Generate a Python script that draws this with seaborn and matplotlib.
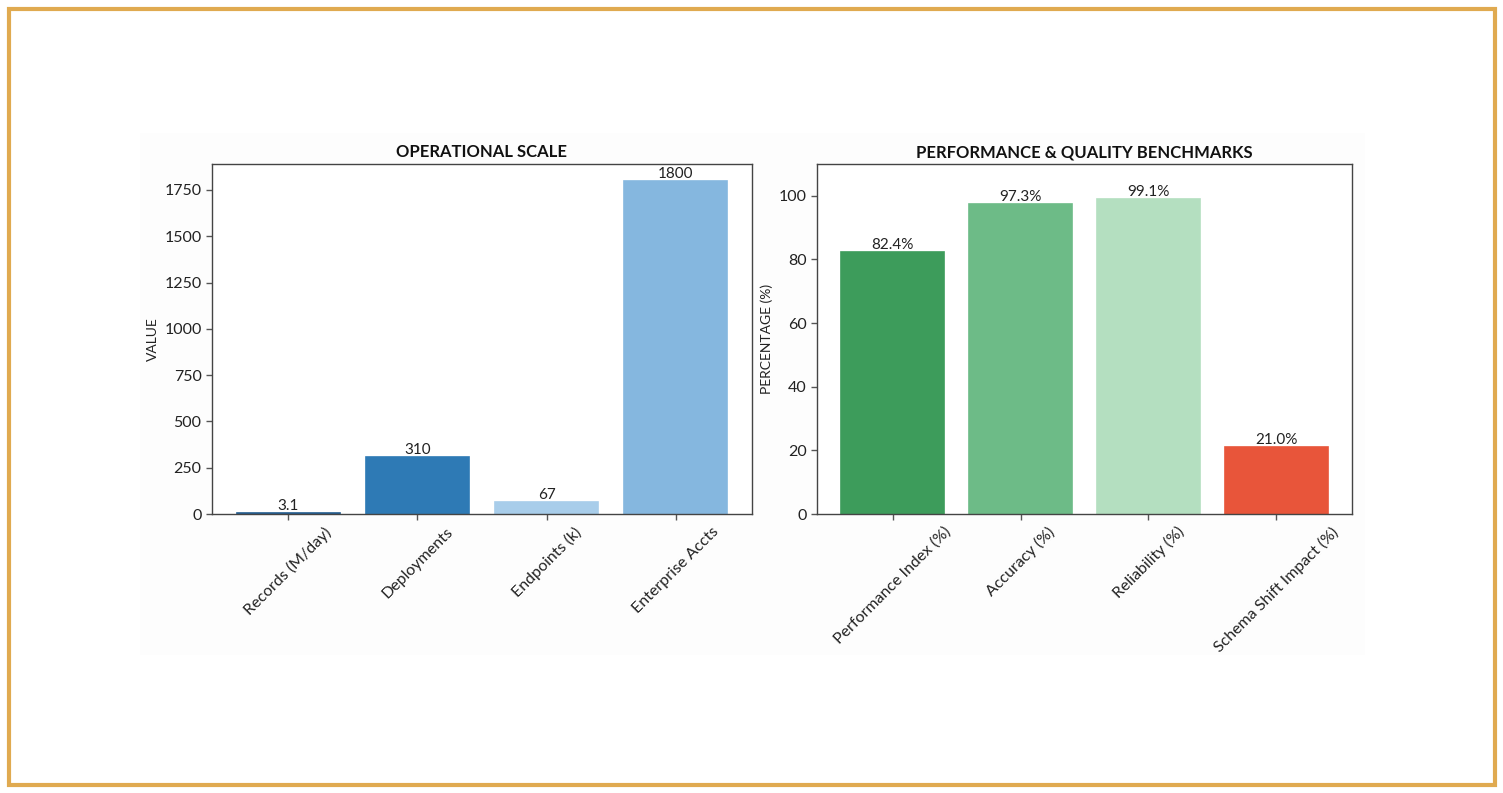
import matplotlib
matplotlib.use("Agg")
import matplotlib.pyplot as plt
import seaborn as sns
import pandas as pd
from matplotlib.patches import Rectangle

# Data
scale_labels = ["Records (M/day)", "Deployments", "Endpoints (k)", "Enterprise Accts"]
scale_values = [3.1, 310, 67, 1800]
scale_text = ["3.1", "310", "67", "1800"]
scale_colors = ["#245d90", "#2e7ab5", "#a8cdea", "#85b7df"]

perf_labels = ["Performance Index (%)", "Accuracy (%)", "Reliability (%)", "Schema Shift Impact (%)"]
perf_values = [82.4, 97.3, 99.1, 21.0]
perf_text = ["82.4%", "97.3%", "99.1%", "21.0%"]
perf_colors = ["#3d9c5b", "#6dbb87", "#b4dfc0", "#e8553a"]

sns.set_style("white")
plt.rcParams["font.family"] = ["Lato", "DejaVu Sans"]
plt.rcParams["axes.edgecolor"] = "#333333"
plt.rcParams["axes.linewidth"] = 1.0

fig = plt.figure(figsize=(15.03, 7.93), dpi=100)

# faint panel behind the charts and gold frame
fig.patches.append(Rectangle((140 / 1503, 1 - 655 / 793), 1225 / 1503, 522 / 793,
                             transform=fig.transFigure, facecolor="#fdfdfd",
                             edgecolor="none", zorder=-1))
fig.patches.append(Rectangle((9 / 1503, 1 - 785 / 793), 1486 / 1503, 776 / 793,
                             transform=fig.transFigure, facecolor="none",
                             edgecolor="#e0aa50", linewidth=3, zorder=5))

ax1 = fig.add_axes([212 / 1503, 1 - 514 / 793, 540 / 1503, 350 / 793], zorder=1)
ax2 = fig.add_axes([817 / 1503, 1 - 514 / 793, 535 / 1503, 350 / 793], zorder=1)


def draw(ax, labels, values, texts, colors, ylim, ylabel, title):
    df = pd.DataFrame({"label": labels, "value": values})
    sns.barplot(data=df, x="label", y="value", hue="label", palette=colors,
                legend=False, ax=ax, width=0.8, saturation=1)
    for patch, c in zip(ax.patches, colors):
        patch.set_edgecolor(c)
        patch.set_linewidth(1.2)
    for i, (v, t) in enumerate(zip(values, texts)):
        ax.text(i, v, t, ha="center", va="bottom", fontsize=11, color="#222222")
    ax.set_xlim(-0.59, len(values) - 0.41)
    ax.set_ylim(0, ylim)
    ax.set_xlabel("")
    ax.set_ylabel(ylabel, fontsize=10, color="#222222")
    ax.set_title(title, fontsize=12, fontweight="bold", color="#111111", pad=5)
    ax.tick_params(axis="both", length=4, width=1, color="#555555",
                   labelsize=11.5, labelcolor="#222222", left=True, bottom=True)
    plt.setp(ax.get_xticklabels(), rotation=45, ha="center")
    ax.set_facecolor("white")
    for s in ax.spines.values():
        s.set_visible(True)
        s.set_color("#444444")


draw(ax1, scale_labels, scale_values, scale_text, scale_colors,
     1890, "VALUE", "OPERATIONAL SCALE")
draw(ax2, perf_labels, perf_values, perf_text, perf_colors,
     110, "PERCENTAGE (%)", "PERFORMANCE & QUALITY BENCHMARKS")

fig.savefig("out.png", dpi=100, facecolor="white")
